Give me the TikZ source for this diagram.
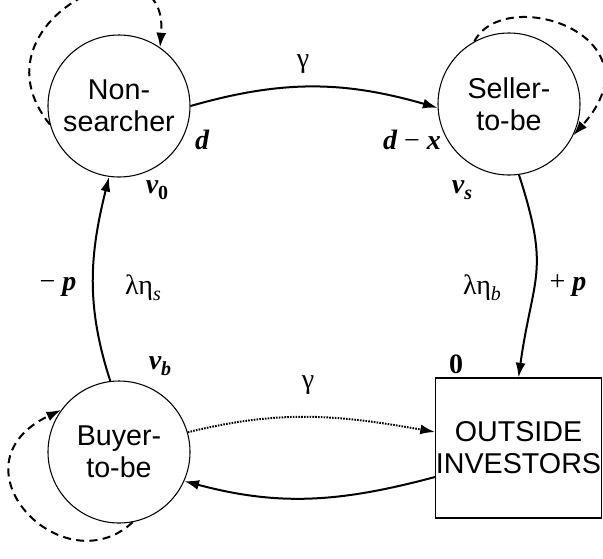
\documentclass[tikz,border=0pt]{standalone}
\usepackage{fontspec}
\setmainfont{Liberation Serif}
\newfontfamily\lsans{Liberation Sans}
\usetikzlibrary{arrows.meta}
\newcommand{\bi}[1]{{\bfseries\itshape #1}}
\newcommand{\lowsub}[1]{\raisebox{-0.45ex}{\fontsize{15}{15}\selectfont #1}}
\begin{document}
\begin{tikzpicture}[x=0.75pt,y=-0.75pt,
  state/.style={draw,circle,line width=0.8pt,minimum size=106.5pt,inner sep=0pt,align=center,
    font=\lsans\fontsize{21.5}{24}\selectfont},
  investor/.style={draw,rectangle,line width=0.8pt,minimum width=124.5pt,minimum height=105pt,inner sep=0pt,align=center,
    font=\lsans\fontsize{21.5}{24}\selectfont},
  arr/.style={line width=1.5pt,-{Latex[length=11pt,width=7.5pt]}},
  loop/.style={arr,dash pattern=on 6pt off 4pt},
  dotline/.style={arr,dash pattern=on 1.2pt off 0.9pt},
  lbl/.style={inner sep=0pt,font=\fontsize{21}{23}\selectfont}]
\useasboundingbox (0,0) rectangle (603,558);
\node[state] (N) at (119,106) {Non-\\searcher};
\node[state] (S) at (509,104) {Seller-\\to-be};
\node[state] (B) at (119,452) {Buyer-\\to-be};
\node[investor] (O) at (518.5,448) {OUTSIDE\\INVESTORS};
% transitions
\draw[arr] (N.0) to[out=16,in=164] (S.183);
\draw[arr] (S.-82) to[out=-72,in=82,looseness=1.3] (O.north);
\draw[arr] (B.97) to[out=108,in=-104] (N.-98);
\draw[dotline] (B.16) to[out=14,in=170] ([yshift=12pt]O.west);
\draw[arr] ([yshift=-21.75pt]O.west) to[out=-165,in=-15] (B.-24);
% self loops
\draw[loop] (N.195) .. controls +(-85,-105) and +(10,-120) .. (N.55);
\draw[loop] (S.119) .. controls +(30,-58) and +(90,-100) .. (S.-26);
\draw[loop] (B.281) .. controls +(-70,65) and +(-115,55) .. (B.144);
% labels
\node[lbl] (g1) at (303,64) {γ};
\node[lbl] (ld) at (202,140) {\bi{d}};
\node[lbl] (ldx) at (412,140) {\bi{d} − \bi{x}};
\node[lbl] (lv0) at (157,190) {\bi{v}\lowsub{\bfseries 0}};
\node[lbl] (lvs) at (462,190) {\bi{v}\lowsub{\bi{s}}};
\node[lbl] (lmp) at (58,287) {− \bi{p}};
\node[lbl] (les) at (143,288) {λη\lowsub{\itshape s}};
\node[lbl] (lvb) at (160,366) {\bi{v}\lowsub{\bi{b}}};
\node[lbl] (leb) at (482,288) {λη\lowsub{\itshape b}};
\node[lbl] (lpp) at (568,286) {+ \bi{p}};
\node[lbl] (lz) at (456,364) {\textbf{0}};
\node[lbl] (g2) at (308,385) {γ};
\end{tikzpicture}
\end{document}
